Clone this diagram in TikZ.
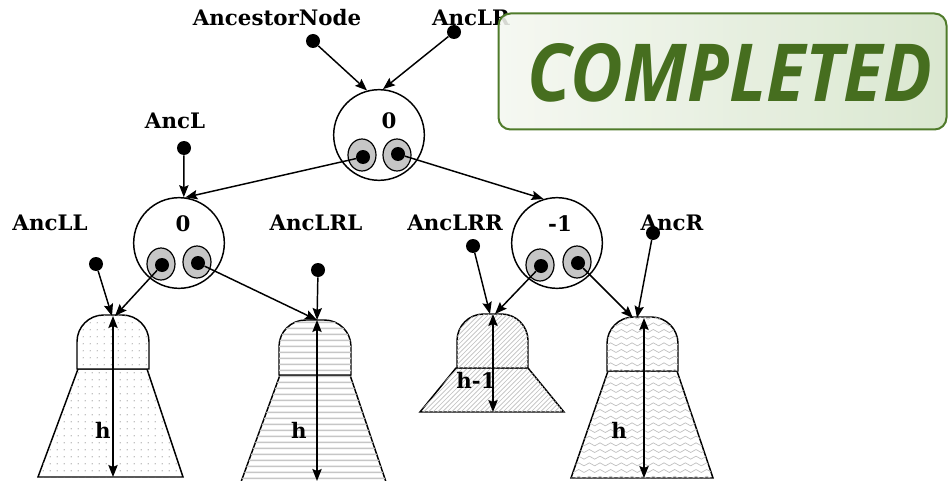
\documentclass[tikz,border=0pt]{standalone}
\usepackage{fontspec}
\usepackage{graphicx}
\setmainfont{DejaVu Serif}
\newfontfamily\stampfont{Open Sans}
\usetikzlibrary{arrows.meta,patterns,shapes.geometric}
\definecolor{stampgreen}{HTML}{466E1F}
\definecolor{stampborder}{HTML}{4F7B2A}
\definecolor{stampL}{HTML}{F4F7F0}
\definecolor{stampR}{HTML}{D5E4CA}
\pgfdeclarepatternformonly{sparsedots}{\pgfqpoint{0pt}{0pt}}{\pgfqpoint{5pt}{5pt}}{\pgfqpoint{5pt}{5pt}}{%
  \pgfpathcircle{\pgfqpoint{2.5pt}{2.5pt}}{0.55pt}\pgfusepath{fill}}
\pgfdeclarepatternformonly{hstripes}{\pgfqpoint{0pt}{0pt}}{\pgfqpoint{4.5pt}{4.5pt}}{\pgfqpoint{4.5pt}{4.5pt}}{%
  \pgfsetlinewidth{1.3pt}\pgfpathmoveto{\pgfqpoint{-0.5pt}{2.25pt}}\pgfpathlineto{\pgfqpoint{5pt}{2.25pt}}\pgfusepath{stroke}}
\pgfdeclarepatternformonly{diaglines}{\pgfqpoint{-0.5pt}{-0.5pt}}{\pgfqpoint{4pt}{4pt}}{\pgfqpoint{3.5pt}{3.5pt}}{%
  \pgfsetlinewidth{0.5pt}\pgfpathmoveto{\pgfqpoint{0pt}{0pt}}\pgfpathlineto{\pgfqpoint{3.6pt}{3.6pt}}\pgfusepath{stroke}}
\pgfdeclarepatternformonly{waves}{\pgfqpoint{-0.5pt}{-0.5pt}}{\pgfqpoint{8.5pt}{5.5pt}}{\pgfqpoint{8pt}{5pt}}{%
  \pgfsetlinewidth{0.5pt}\pgfpathmoveto{\pgfqpoint{0pt}{2.5pt}}%
  \pgfpathcurveto{\pgfqpoint{1.3pt}{4pt}}{\pgfqpoint{2.7pt}{4pt}}{\pgfqpoint{4pt}{2.5pt}}%
  \pgfpathcurveto{\pgfqpoint{5.3pt}{1pt}}{\pgfqpoint{6.7pt}{1pt}}{\pgfqpoint{8pt}{2.5pt}}\pgfusepath{stroke}}
\tikzset{
  lbl/.style={font=\bfseries\fontsize{16}{19}\selectfont, inner sep=0pt},
  avl/.style={circle, draw, line width=1.1pt, minimum size=68pt, inner sep=0pt},
  pin/.style={ellipse, draw, fill=gray!45, line width=0.9pt, minimum width=21pt, minimum height=24pt, inner sep=0pt},
  pindot/.style={circle, fill=black, minimum size=10.5pt, inner sep=0pt},
  refdot/.style={circle, fill=black, minimum size=10.5pt, inner sep=0pt},
  >={Stealth[length=9pt, width=7pt, inset=1.5pt]},
  link/.style={line width=1.1pt, ->},
  hdim/.style={line width=1.1pt, <->},
  treeline/.style={line width=1.1pt, fill=white},
}
\begin{document}
\begin{tikzpicture}[x=0.75pt, y=-0.75pt]
\useasboundingbox (0,0) rectangle (948,481);

% ---- labels
\node[lbl] (lAnc)   at (277,18)  {AncestorNode};
\node[lbl] (lAncLR) at (471,18)  {AncLR};
\node[lbl] (lAncL)  at (175,121) {AncL};
\node[lbl] (lAncLL) at (50,223)  {AncLL};
\node[lbl] (lAncLRL) at (316,223) {AncLRL};
\node[lbl] (lAncLRR) at (455,223) {AncLRR};
\node[lbl] (lAncR)  at (672,223) {AncR};

% ---- AVL nodes
\node[avl] (c1) at (379,135) {};
\node[lbl] (v1) at (389,121) {0};
\node[avl] (c2) at (179,243) {};
\node[lbl] (v2) at (183,224) {0};
\node[avl] (c3) at (557,243) {};
\node[lbl] (v3) at (560,224) {-1};

% pins
\node[pin] (p1l) at (362,155) {}; \node[pindot] (d1l) at (363,157) {};
\node[pin] (p1r) at (397,155) {}; \node[pindot] (d1r) at (398,154) {};
\node[pin] (p2l) at (161,264) {}; \node[pindot] (d2l) at (162,265) {};
\node[pin] (p2r) at (197,262) {}; \node[pindot] (d2r) at (198,263) {};
\node[pin] (p3l) at (540,265) {}; \node[pindot] (d3l) at (541,266) {};
\node[pin] (p3r) at (577,262) {}; \node[pindot] (d3r) at (578,263) {};

% reference dots
\node[refdot] (rAnc)   at (313,41)  {};
\node[refdot] (rAncLR) at (454,32)  {};
\node[refdot] (rAncL)  at (184,148) {};
\node[refdot] (rAncLL) at (96,264)  {};
\node[refdot] (rAncLRL) at (318,270) {};
\node[refdot] (rAncLRR) at (473,246) {};
\node[refdot] (rAncR)  at (653,233) {};

% ---- subtrees
% tree 1 (dots)
\draw[treeline, postaction={pattern=sparsedots, pattern color=gray!65}]
  (78,369) -- (147,369) -- (183,477) -- (38,477) -- cycle;
\draw[treeline, postaction={pattern=sparsedots, pattern color=gray!65}]
  (77,369) [rounded corners=20pt] -- (77,315) -- (149,315) [sharp corners] -- (149,369) -- cycle;
\coordinate (t1) at (113,316);
\coordinate (b1) at (113,477);
% tree 2 (horizontal lines)
\draw[treeline, postaction={pattern=hstripes, pattern color=gray!45}]
  (280,375) -- (350,375) -- (386,482) -- (241,482) -- cycle;
\draw[treeline, postaction={pattern=hstripes, pattern color=gray!45}]
  (279,375) [rounded corners=20pt] -- (279,320) -- (351,320) [sharp corners] -- (351,375) -- cycle;
\coordinate (t2) at (317,320);
\coordinate (b2) at (317,481);
% tree 3 (diagonal lines)
\draw[treeline, postaction={pattern=diaglines, pattern color=gray!50}]
  (456,368) -- (528,368) -- (564,412) -- (420,412) -- cycle;
\draw[treeline, postaction={pattern=diaglines, pattern color=gray!50}]
  (457,368) [rounded corners=20pt] -- (457,314) -- (528,314) [sharp corners] -- (528,368) -- cycle;
\coordinate (t3) at (493,314);
\coordinate (b3) at (493,412);
% tree 4 (waves)
\draw[treeline, postaction={pattern=waves, pattern color=gray!50}]
  (608,371) -- (677,371) -- (713,478) -- (571,478) -- cycle;
\draw[treeline, postaction={pattern=waves, pattern color=gray!50}]
  (607,371) [rounded corners=20pt] -- (607,317) -- (678,317) [sharp corners] -- (678,371) -- cycle;
\coordinate (t4) at (644,318);
\coordinate (b4) at (644,478);

% height arrows
\draw[hdim] (t1) -- (b1);
\draw[hdim] (t2) -- (b2);
\draw[hdim] (t3) -- (b3);
\draw[hdim] (t4) -- (b4);
\node[lbl] (h1) at (103,430) {h};
\node[lbl] (h2) at (299,430) {h};
\node[lbl] (h3) at (476,380) {h-1};
\node[lbl] (h4) at (619,430) {h};

% tree attachment points
\coordinate (a1a) at (112,316);
\coordinate (a1b) at (115,316);
\coordinate (a3a) at (490,314);
\coordinate (a3b) at (495,314);
\coordinate (a4a) at (633,318);
\coordinate (a4b) at (637,318);

% ---- connectors
\draw[link] (rAnc) -- (c1.105);
\draw[link] (rAncLR) -- (c1.85);
\draw[link] (d1l) -- (c2.82);
\draw[link] (rAncL) -- (c2.84);
\draw[link] (d1r) -- (c3.107);
\draw[link] (rAncLL) -- (a1a);
\draw[link] (d2l) -- (a1b);
\draw[link] (d2r) -- (t2);
\draw[link] (rAncLRL) -- (t2);
\draw[link] (rAncLRR) -- (a3a);
\draw[link] (d3l) -- (a3b);
\draw[link] (d3r) -- (a4a);
\draw[link] (rAncR) -- (a4b);

% ---- COMPLETED stamp
\node[draw=stampborder, line width=1.5pt, rounded corners=9pt,
      left color=stampL, right color=stampR, fill opacity=0.88, text opacity=1,
      minimum width=336pt, minimum height=87pt, inner sep=0pt] (stamp) at (722.5,71.5) {};
\node[inner sep=0pt, text=stampgreen] (stamptext) at (730,72.5)
  {\resizebox{303pt}{43.5pt}{\stampfont\bfseries\itshape COMPLETED}};
\end{tikzpicture}
\end{document}
